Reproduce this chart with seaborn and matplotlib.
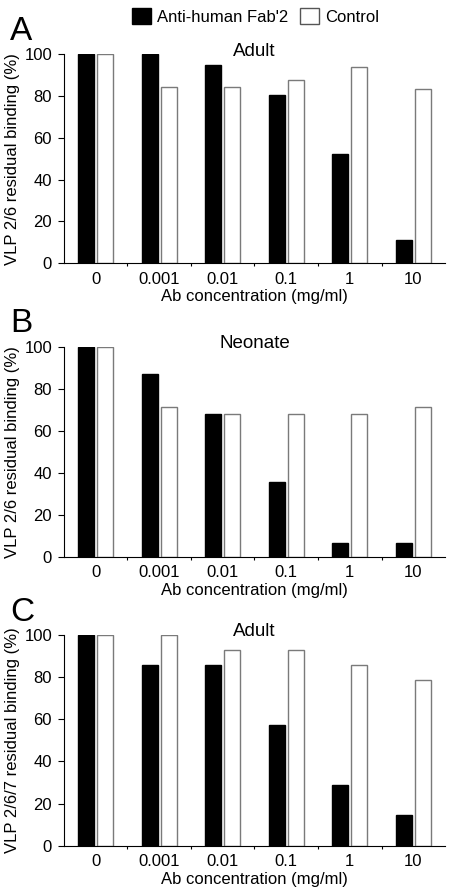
import pandas as pd
import matplotlib.pyplot as plt
import seaborn as sns
from matplotlib.patches import Patch

# NOTE: Data
concentrations = ['0', '0.001', '0.01', '0.1', '1', '10']
series_names = ["Anti-human Fab'2", 'Control']

adult_26_fab = [100, 100, 94.7, 80.4, 52.5, 11.0]
adult_26_ctrl = [100, 84.5, 84.5, 87.6, 93.9, 83.3]

neonate_26_fab = [100, 86.8, 67.9, 35.6, 6.5, 6.5]
neonate_26_ctrl = [100, 71.1, 67.9, 67.9, 67.9, 71.1]

adult_267_fab = [100, 85.6, 85.6, 57.1, 28.6, 14.4]
adult_267_ctrl = [100, 100, 92.7, 92.7, 85.6, 78.6]

panel_letters = ['A', 'B', 'C']
panel_titles = ['Adult', 'Neonate', 'Adult']
panel_ylabels = ['VLP 2/6 residual binding (%)',
                 'VLP 2/6 residual binding (%)',
                 'VLP 2/6/7 residual binding (%)']
y_ticks = [0, 20, 40, 60, 80, 100]


def to_long(fab, ctrl):
    return pd.DataFrame({
        'conc': concentrations * 2,
        'value': fab + ctrl,
        'serie': [series_names[0]] * len(fab) + [series_names[1]] * len(ctrl),
    })


panels = [
    to_long(adult_26_fab, adult_26_ctrl),
    to_long(neonate_26_fab, neonate_26_ctrl),
    to_long(adult_267_fab, adult_267_ctrl),
]

sns.set_style('ticks')
plt.rcParams['font.family'] = ['Liberation Sans', 'DejaVu Sans']
plt.rcParams['text.color'] = 'black'
plt.rcParams['axes.labelcolor'] = 'black'
plt.rcParams['xtick.color'] = 'black'
plt.rcParams['ytick.color'] = 'black'
plt.rcParams['axes.edgecolor'] = 'black'

fig = plt.figure(figsize=(4.5, 8.94), dpi=100)

# axes boxes in figure fraction (left, bottom, width, height)
boxes = [
    (0.142, 0.7055, 0.847, 0.2338),
    (0.142, 0.3773, 0.847, 0.2349),
    (0.142, 0.0540, 0.847, 0.2357),
]
edge_colors = ['black', '#7a7a7a']

for i, df in enumerate(panels):
    ax = fig.add_axes(boxes[i])
    sns.barplot(data=df, x='conc', y='value', hue='serie', order=concentrations,
                hue_order=series_names, palette=['black', 'white'],
                width=0.6, gap=0.15, linewidth=1.0, ax=ax, legend=False)
    for cont, ec in zip(ax.containers, edge_colors):
        for bar in cont:
            bar.set_edgecolor(ec)

    ax.set_xlim(-0.5, 5.5)
    ax.set_ylim(0, 100)
    ax.set_yticks(y_ticks)
    ax.tick_params(axis='y', labelsize=12, length=4.5, width=0.8, pad=4)
    ax.tick_params(axis='x', which='major', labelsize=12, length=0, pad=6)
    ax.set_xticks([k + 0.5 for k in range(5)], minor=True)
    ax.tick_params(axis='x', which='minor', length=2.5, width=0.8)
    ax.set_xlabel('Ab concentration (mg/ml)', fontsize=12, labelpad=2)
    ax.set_ylabel(panel_ylabels[i], fontsize=12, labelpad=3)
    sns.despine(ax=ax)
    ax.spines['left'].set_linewidth(0.8)
    ax.spines['bottom'].set_linewidth(0.8)

    ax.text(0.5, 1.015, panel_titles[i], transform=ax.transAxes,
            ha='center', va='center', fontsize=13.5)
    ax.text(-0.142, 1.068, panel_letters[i], transform=ax.transAxes,
            ha='left', va='baseline', fontsize=24)

handles = [Patch(facecolor='black', edgecolor='black', linewidth=1.0),
           Patch(facecolor='white', edgecolor='#555555', linewidth=1.0)]
fig.legend(handles, series_names, loc='center', bbox_to_anchor=(0.568, 0.982),
           ncol=2, frameon=False, fontsize=12, handlelength=1.15, handleheight=1.15,
           handletextpad=0.35, columnspacing=0.7, borderpad=0)

plt.savefig('out.png', dpi=100)
